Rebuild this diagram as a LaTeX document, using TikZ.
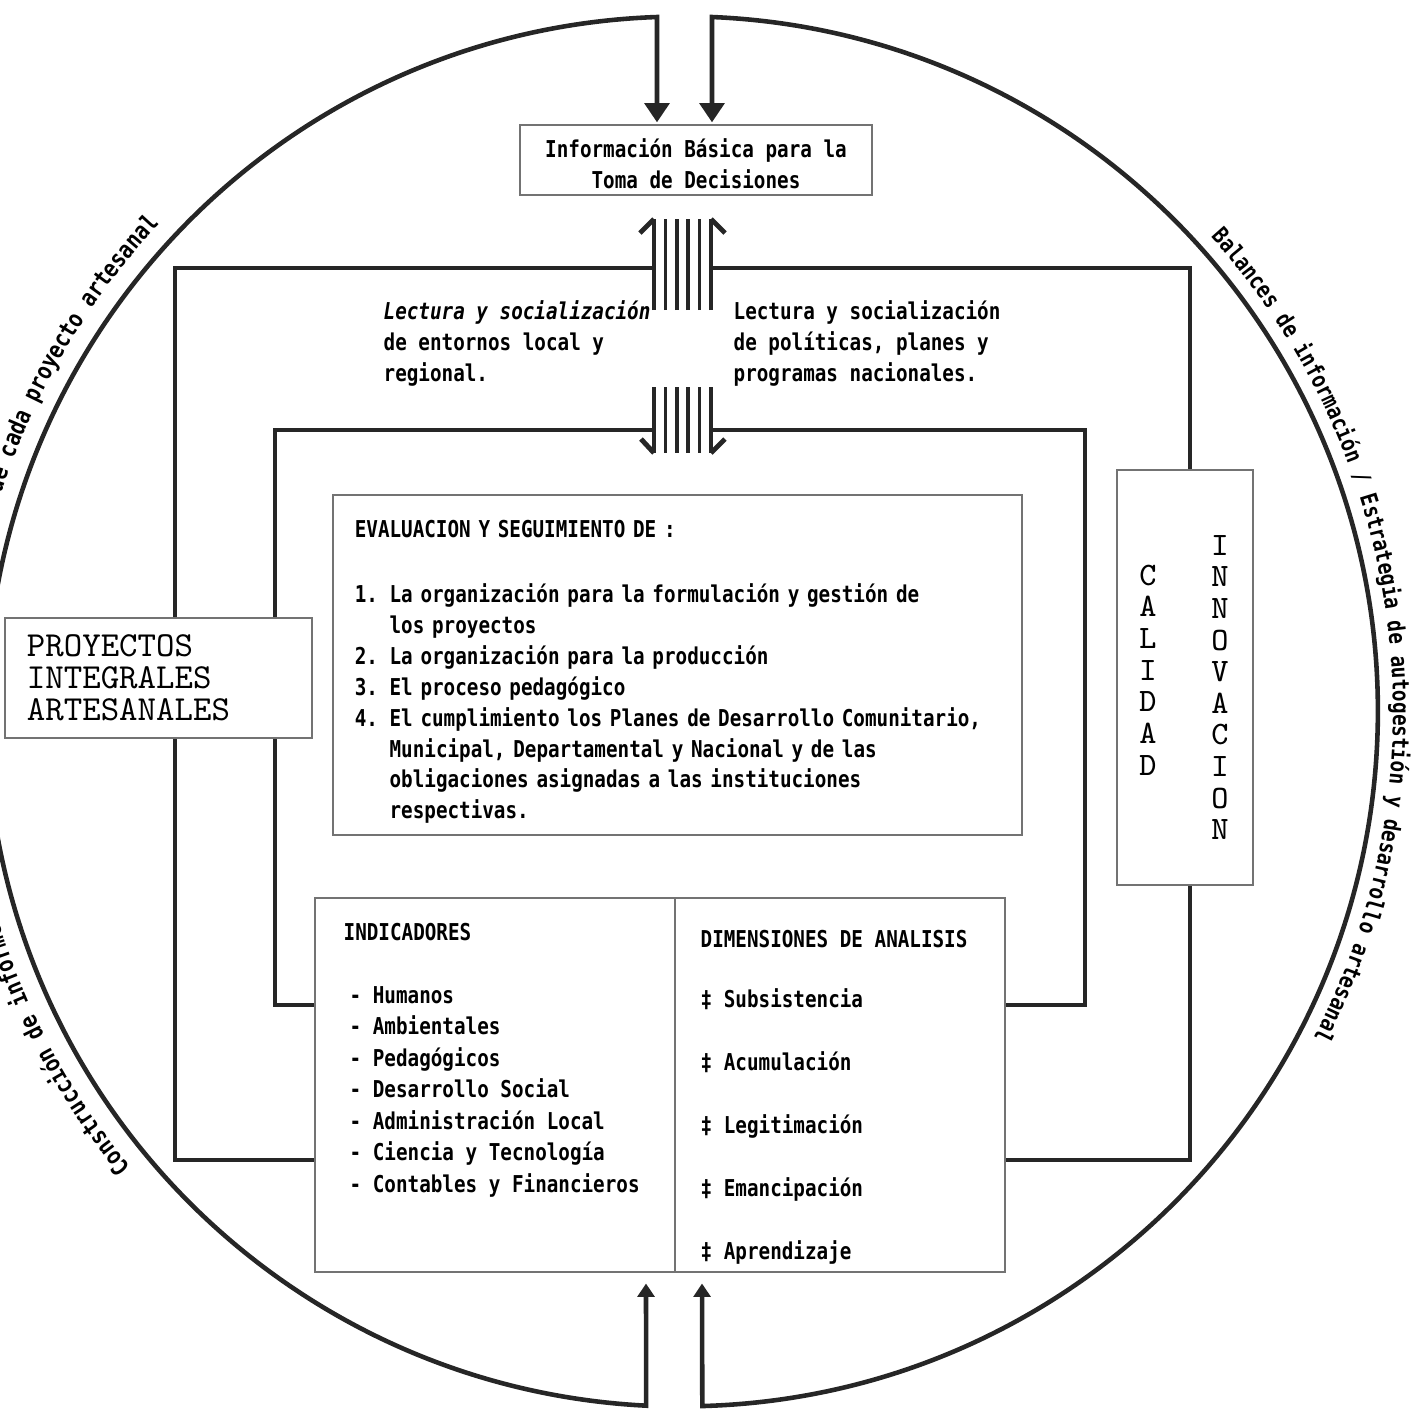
\documentclass[tikz,border=0pt]{standalone}
\usepackage{fontspec}
\usetikzlibrary{arrows.meta, positioning, calc, decorations.text, backgrounds}
\newfontfamily\dotfont[FakeStretch=0.83]{DejaVu Sans Mono}
\newcommand\dottext{\dotfont\bfseries\fontsize{6.6}{8.8}\selectfont}
\newcommand\circtext{\dotfont\bfseries\fontsize{6.9}{8}\selectfont}
\tikzset{big/.tip={Triangle[width=7pt,length=5.5pt]}}
\tikzset{small/.tip={Triangle[width=4.8pt,length=3.8pt]}}
\tikzset{box/.style={draw=black!55, line width=0.5pt, fill=white, inner sep=0pt}}
\tikzset{txt/.style={font=\dottext, align=left, inner sep=0pt}}
\tikzset{typed/.style={font=\ttfamily\fontsize{9.3}{9}\selectfont, align=center, inner sep=0pt}}
\tikzset{frame/.style={line width=1pt, black!85}}
\tikzset{loop/.style={line width=1.3pt, black!85}}
\tikzset{hatch/.style={line width=1pt, black!85}}

\begin{document}
\begin{tikzpicture}[x=0.01cm, y=0.01cm]
\useasboundingbox (0,0) rectangle (1417,-1420);
\clip (0,0) rectangle (1417,-1420);

\node[box, txt, align=center, minimum width=3.52cm, minimum height=0.7cm] (info) at (696,-160)
  {\rule{0pt}{7.6pt}Información Básica para la\\Toma de Decisiones};
\node[box, txt, text width=6.45cm, inner xsep=0.22cm, minimum height=3.4cm] (eval) at (677.5,-665)
  {\rule{0pt}{8.8pt}EVALUACION Y SEGUIMIENTO DE :\\[9.7pt]
   1. La organización para la formulación y gestión de\\
   \phantom{1. }los proyectos\\
   2. La organización para la producción\\
   3. El proceso pedagógico\\
   4. El cumplimiento los Planes de Desarrollo Comunitario,\\
   \phantom{4. }Municipal, Departamental y Nacional y de las\\
   \phantom{4. }obligaciones asignadas a las instituciones\\
   \phantom{4. }respectivas.};
\node[box, font=\ttfamily\fontsize{10}{9.1}\selectfont, align=left, text width=2.63cm,
  inner xsep=0.22cm, minimum height=1.2cm] (proj) at (158.5,-678) {PROYECTOS\\INTEGRALES\\ARTESANALES};
\node[box, minimum width=6.9cm, minimum height=3.74cm] (ind) at (660,-1085) {};
\node[box, minimum width=1.36cm, minimum height=4.15cm] (qual) at (1185,-677.5) {};
\node[typed] (calidad) at (1148,-670) {C\\A\\L\\I\\D\\A\\D};
\node[typed] (innov) at (1220,-687.5) {I\\N\\N\\O\\V\\A\\C\\I\\O\\N};

\coordinate (split) at (675,-1085);
\draw[draw=black!55, line width=0.5pt] (split |- ind.north) -- (split |- ind.south);
\node[txt, anchor=base west] (indtitle) at (343,-940) {INDICADORES};
\foreach \t [count=\i] in {Humanos, Ambientales, Pedagógicos, Desarrollo Social,
    Administración Local, Ciencia y Tecnología, Contables y Financieros}
  \node[txt, anchor=base west] (indic\i) at (349,{-1003-31.5*(\i-1)}) {- \t};
\node[txt, anchor=base west] (dimtitle) at (700,-947) {DIMENSIONES DE ANALISIS};
\foreach \t [count=\i] in {Subsistencia, Acumulación, Legitimación, Emancipación, Aprendizaje}
  \node[txt, anchor=base west] (dim\i) at (700,{-1007-63.2*(\i-1)}) {‡ \t};

\node[txt, anchor=north west] (localread) at (383,-300)
  {{\itshape Lectura y socialización}\\de entornos local y\\regional.};
\node[txt, anchor=north west] (natread) at (733,-300)
  {Lectura y socialización\\de políticas, planes y\\programas nacionales.};

% outer loop
\coordinate (C) at (683,-712);
\coordinate (ltop) at (657,-17);
\coordinate (rtop) at (712,-17);
\coordinate (lbot) at (646,-1406);
\coordinate (rbot) at (702,-1406);
\draw[loop, big-small, shorten <=0.5pt, shorten >=3pt] (info.north -| ltop) -- (ltop)
  arc[start angle=92, end angle=267.1, radius=695] -- (ind.south -| lbot);
\draw[loop, big-small, shorten <=0.5pt, shorten >=3pt] (info.north -| rtop) -- (rtop)
  arc[start angle=87.6, end angle=-88.4, radius=695] -- (ind.south -| rbot);

\path[decorate, decoration={text along path, text align=left,
  text={|\dottext|Balances de información / Estrategia de autogestión y desarrollo artesanal}}]
  ($(C)+(42:710)$) arc[start angle=42, end angle=-33, radius=710];
\path[decorate, decoration={text along path, text align=left,
  text={|\circtext|Construcción de informes}}]
  ($(C)+(219.5:716)$) arc[start angle=219.5, end angle=170, radius=716];
\path[decorate, decoration={text along path, text align=right,
  text={|\circtext|de cada proyecto artesanal}}]
  ($(C)+(175:716)$) arc[start angle=175, end angle=137, radius=716];

% wide arrows
\coordinate (upbase) at (654,-310);
\coordinate (lobase) at (654,-387);
\foreach \dx in {0,11.4,22.8,34.2,45.6,57} {
  \draw[hatch] ($(upbase)+(\dx,0)$) -- ++(0,91);
  \draw[hatch] ($(lobase)+(\dx,0)$) -- ++(0,-66);
}
\draw[hatch, line width=1.4pt] ($(upbase)+(0,91)$) -- ++(-14,-14);
\draw[hatch, line width=1.4pt] ($(upbase)+(57,91)$) -- ++(14,-14);
\draw[hatch, line width=1.4pt] ($(lobase)+(0,-66)$) -- ++(-13,14);
\draw[hatch, line width=1.4pt] ($(lobase)+(57,-66)$) -- ++(14,14);

\begin{scope}[on background layer]
\coordinate (obl) at (175,-1160);
\coordinate (otl) at (175,-268);
\coordinate (otr) at (1190,-268);
\coordinate (obr) at (1190,-1160);
\coordinate (ibl) at (275,-1005);
\coordinate (itl) at (275,-430);
\coordinate (itr) at (1085,-430);
\coordinate (ibr) at (1085,-1005);
\draw[frame] (obl -| ind.west) -- (obl) -- (otl) -- (otl -| upbase);
\draw[frame] ($(otl -| upbase)+(57,0)$) -- (otr) -- (qual.north -| otr);
\draw[frame] (qual.south -| otr) -- (obr) -- (obr -| ind.east);
\draw[frame] (ibl -| ind.west) -- (ibl) -- (itl) -- (itl -| lobase);
\draw[frame] ($(itl -| lobase)+(57,0)$) -- (itr) -- (ibr) -- (ibr -| ind.east);
\end{scope}
\end{tikzpicture}
\end{document}
